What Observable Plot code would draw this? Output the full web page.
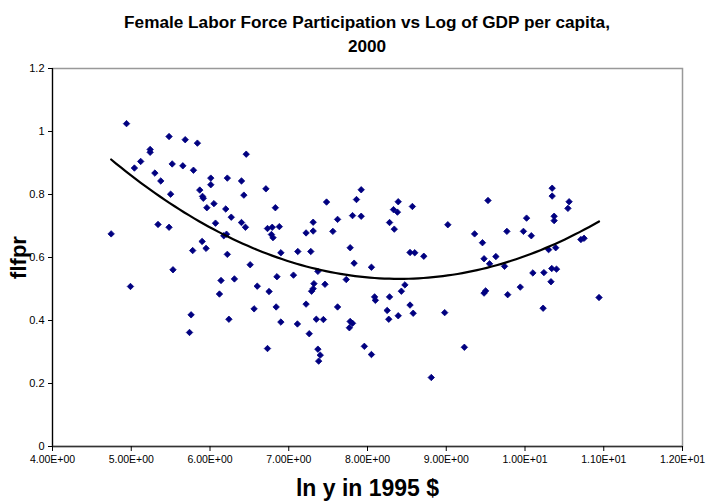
<!DOCTYPE html>
<html>
<head>
<meta charset="utf-8">
<script src="https://cdn.jsdelivr.net/npm/d3@7"></script>
<script src="https://cdn.jsdelivr.net/npm/@observablehq/plot@0.6"></script>
<style>
  body { margin: 0; background: #fff; font-family: "Liberation Sans", Arial, sans-serif; }
  #title { width: 707px; box-sizing: border-box; padding-left: 27px; padding-top: 10px; height: 62px;
           text-align: center; font-weight: bold; font-size: 17.2px; line-height: 24px; color: #000; }
</style>
</head>
<body>
<div id="title">Female Labor Force Participation vs Log of GDP per capita,<br>2000</div>
<div id="chart"></div>
<script>
// ln GDP per capita (1995 $)
const lnY = [
  4.745, 4.94, 4.99, 5.04, 5.12, 5.24, 5.24, 5.30, 5.34, 5.375,
  5.48, 5.48, 5.50, 5.52, 5.53, 5.655, 5.685, 5.74, 5.76, 5.78,
  5.79, 5.84, 5.87, 5.90, 5.905, 5.915, 5.95, 5.96, 6.01, 6.01,
  6.05, 6.07, 6.12, 6.14, 6.175, 6.20, 6.21, 6.22, 6.22, 6.24,
  6.27, 6.31, 6.40, 6.40, 6.43, 6.45, 6.46, 6.51, 6.56, 6.60,
  6.71, 6.73, 6.73, 6.75, 6.78, 6.79, 6.80, 6.83, 6.84, 6.85,
  6.88, 6.90, 6.90, 7.06, 7.11, 7.115, 7.22, 7.22, 7.26, 7.28,
  7.29, 7.31, 7.31, 7.31, 7.32, 7.35, 7.37, 7.37, 7.38, 7.40,
  7.44, 7.46, 7.48, 7.56, 7.62, 7.62, 7.73, 7.77, 7.78, 7.78,
  7.81, 7.81, 7.83, 7.86, 7.92, 7.92, 7.96, 8.05, 8.05, 8.09,
  8.10, 8.25, 8.27, 8.28, 8.28, 8.33, 8.34, 8.38, 8.39, 8.39,
  8.43, 8.475, 8.54, 8.54, 8.57, 8.58, 8.60, 8.715, 8.81, 8.98,
  9.02, 9.23, 9.36, 9.46, 9.48, 9.48, 9.50, 9.53, 9.55, 9.63,
  9.74, 9.77, 9.78, 9.94, 9.98, 10.02, 10.08, 10.10, 10.23, 10.24,
  10.30, 10.33, 10.34, 10.345, 10.345, 10.37, 10.37, 10.39, 10.40, 10.545,
  10.56, 10.71, 10.75, 10.94
];
// female labor force participation rate
const flfpr = [
  0.675, 1.025, 0.508, 0.884, 0.905, 0.943, 0.934, 0.868, 0.705, 0.843,
  0.984, 0.696, 0.801, 0.897, 0.561, 0.891, 0.974, 0.362, 0.418, 0.622,
  0.877, 0.963, 0.814, 0.651, 0.794, 0.788, 0.629, 0.758, 0.852, 0.831,
  0.771, 0.709, 0.484, 0.527, 0.669, 0.754, 0.674, 0.852, 0.610, 0.404,
  0.728, 0.532, 0.843, 0.711, 0.798, 0.696, 0.928, 0.577, 0.437, 0.509,
  0.818, 0.692, 0.311, 0.492, 0.673, 0.696, 0.663, 0.758, 0.443, 0.539,
  0.698, 0.615, 0.395, 0.544, 0.389, 0.619, 0.678, 0.452, 0.358, 0.619,
  0.493, 0.684, 0.712, 0.501, 0.517, 0.404, 0.556, 0.309, 0.271, 0.290,
  0.403, 0.515, 0.776, 0.683, 0.721, 0.443, 0.530, 0.377, 0.631, 0.397,
  0.733, 0.391, 0.582, 0.784, 0.815, 0.731, 0.318, 0.569, 0.292, 0.475,
  0.464, 0.432, 0.404, 0.711, 0.475, 0.752, 0.690, 0.744, 0.777, 0.415,
  0.493, 0.513, 0.616, 0.449, 0.762, 0.423, 0.615, 0.604, 0.219, 0.425,
  0.704, 0.315, 0.675, 0.647, 0.596, 0.487, 0.494, 0.781, 0.580, 0.603,
  0.572, 0.683, 0.482, 0.506, 0.683, 0.725, 0.669, 0.551, 0.439, 0.552,
  0.625, 0.523, 0.565, 0.820, 0.795, 0.731, 0.717, 0.631, 0.563, 0.756,
  0.777, 0.657, 0.661, 0.473
];
const xTicks = [4, 5, 6, 7, 8, 9, 10, 11, 12];
const yTicks = [0, 0.2, 0.4, 0.6, 0.8, 1.0, 1.2];

const data = lnY.map((x, i) => ({x, y: flfpr[i]}));

// Excel-style polynomial (order 2) trendline: least-squares fit
function quadFit(xs, ys) {
  let s = [0,0,0,0,0], t = [0,0,0];
  xs.forEach((x, i) => {
    const y = ys[i];
    let p = 1;
    for (let k = 0; k < 5; k++) { s[k] += p; if (k < 3) t[k] += p * y; p *= x; }
  });
  const A = [[s[0], s[1], s[2], t[0]], [s[1], s[2], s[3], t[1]], [s[2], s[3], s[4], t[2]]];
  for (let c = 0; c < 3; c++) {
    for (let r = c + 1; r < 3; r++) {
      const f = A[r][c] / A[c][c];
      for (let k = c; k < 4; k++) A[r][k] -= f * A[c][k];
    }
  }
  const b = [0,0,0];
  for (let r = 2; r >= 0; r--) {
    let v = A[r][3];
    for (let k = r + 1; k < 3; k++) v -= A[r][k] * b[k];
    b[r] = v / A[r][r];
  }
  return b;
}
const coef = quadFit(lnY, flfpr);
const [xmin, xmax] = d3.extent(lnY);
const trend = d3.range(0, 101).map(i => {
  const x = xmin + (xmax - xmin) * i / 100;
  return {x, y: coef[0] + coef[1] * x + coef[2] * x * x};
});

const fmtX = d => {
  const [m, e] = d.toExponential(2).split("e");
  return `${m}E${e[0]}${e.slice(1).padStart(2, "0")}`;
};
const fmtY = d => String(+d.toFixed(1));

const chart = Plot.plot({
  width: 707,
  height: 440,
  marginTop: 6,
  marginBottom: 56,
  marginLeft: 52,
  marginRight: 25,
  style: {fontFamily: "'Liberation Sans', Arial, sans-serif", color: "#000", background: "#fff"},
  x: {domain: [4, 12]},
  y: {domain: [0, 1.2]},
  marks: [
    Plot.frame({stroke: "#999", strokeWidth: 1.5}),
    Plot.ruleX([4], {stroke: "#000", strokeWidth: 1.2}),
    Plot.ruleY([0], {stroke: "#333", strokeWidth: 1.5}),
    Plot.axisX({ticks: xTicks, tickFormat: fmtX, tickSize: 5, tickPadding: 4, fontSize: 10.5, label: null, stroke: "#000"}),
    Plot.axisY({ticks: yTicks, tickFormat: fmtY, tickSize: 4, tickPadding: 4, fontSize: 11, label: null, stroke: "#000"}),
    Plot.dot(data, {x: "x", y: "y", symbol: "diamond2", r: 2.9, fill: "#000080", stroke: "#000080", strokeWidth: 0.8}),
    Plot.line(trend, {x: "x", y: "y", stroke: "#000", strokeWidth: 2.2, curve: "linear"}),
    Plot.text(["flfpr"], {frameAnchor: "left", dx: -34, rotate: -90, fontSize: 22, fontWeight: "bold", lineAnchor: "middle", textAnchor: "middle"}),
    Plot.text(["ln y in 1995 $"], {frameAnchor: "bottom", dy: 42, fontSize: 23, fontWeight: "bold", lineAnchor: "middle", textAnchor: "middle"})
  ]
});
document.getElementById("chart").appendChild(chart);
</script>
</body>
</html>
